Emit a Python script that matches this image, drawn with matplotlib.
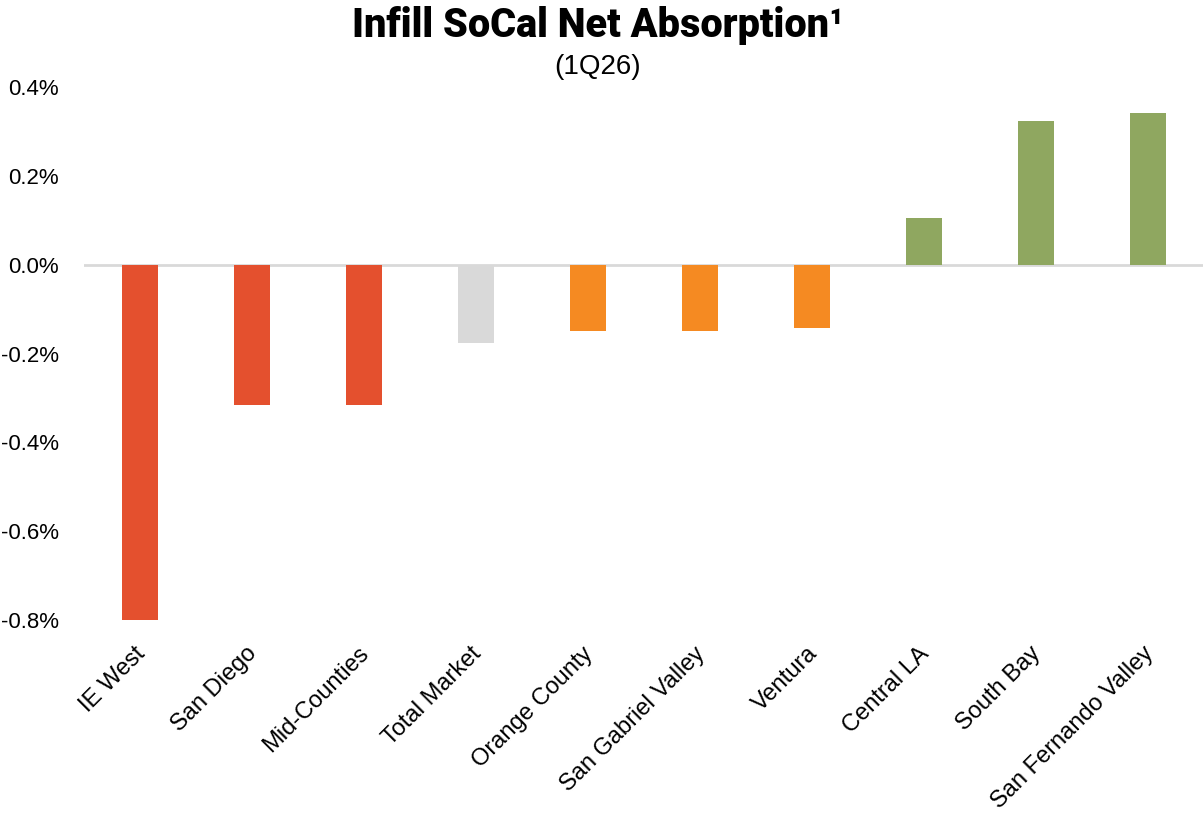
import matplotlib.pyplot as plt
from matplotlib.ticker import FuncFormatter
from matplotlib.transforms import ScaledTranslation

markets = ['IE West', 'San Diego', 'Mid-Counties', 'Total Market', 'Orange County',
           'San Gabriel Valley', 'Ventura', 'Central LA', 'South Bay', 'San Fernando Valley']
absorption = [-0.806, -0.315, -0.315, -0.176, -0.149, -0.149, -0.142, 0.106, 0.324, 0.342]
bar_colors = ['#E4502E', '#E4502E', '#E4502E', '#D9D9D9', '#F58A22',
              '#F58A22', '#F58A22', '#8FA760', '#8FA760', '#8FA760']

plt.rcParams['font.family'] = ['Liberation Sans', 'DejaVu Sans']

fig = plt.figure(figsize=(12.03, 8.22), dpi=100)
ax = fig.add_axes([84/1203, 202/822, 1120/1203, (620-87)/822])

x = list(range(len(markets)))
ax.bar(x, absorption, width=0.32, color=bar_colors, zorder=2)
ax.axhline(0, color='#D9D9D9', lw=2, zorder=1)

ax.set_xlim(-0.5, len(markets) - 0.5)
ax.set_ylim(-0.8, 0.4)
ax.set_yticks([-0.8, -0.6, -0.4, -0.2, 0.0, 0.2, 0.4])
# plain hyphen for the minus sign, like the original
ax.yaxis.set_major_formatter(FuncFormatter(lambda v, p: ('%.1f%%' % v).replace('\u2212', '-')))
ax.set_xticks(x)
ax.set_xticklabels(markets, rotation=45, ha='right', rotation_mode='anchor', fontsize=17)
ax.tick_params(length=0, colors='#000000')
ax.tick_params(axis='y', labelsize=16, pad=18)
ax.tick_params(axis='x', pad=12)
for s in ax.spines.values():
    s.set_visible(False)

# nudge the slanted labels a bit left/down
shift = ScaledTranslation(-6/100, -6/100, fig.dpi_scale_trans)
for lbl in ax.get_xticklabels():
    lbl.set_transform(lbl.get_transform() + shift)

fig.text(0.497, 0.969, 'Infill SoCal Net Absorption\u00b9', ha='center', va='center',
         fontsize=28.5, fontweight='heavy', family=['Roboto', 'DejaVu Sans'])
fig.text(0.497, 0.919, '(1Q26)', ha='center', va='center', fontsize=20)

fig.savefig('out.png', dpi=100)
